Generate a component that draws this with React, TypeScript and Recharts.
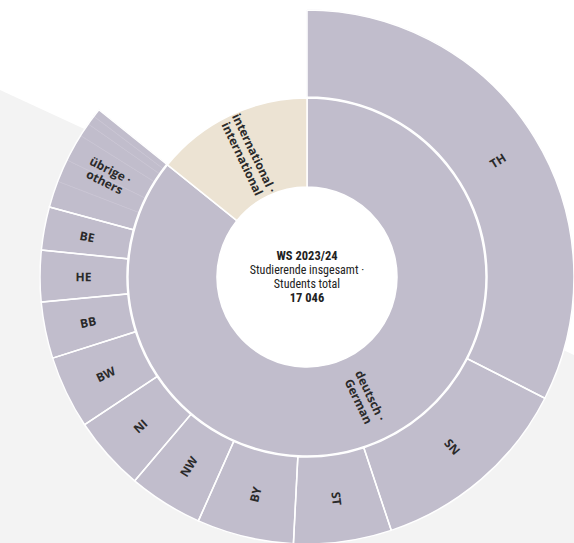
import React from "react";
import { PieChart, Pie, Cell } from "recharts";

// inner ring: origin of students
const originLabels = [["deutsch ·", "German"], ["international ·", "international"]];
const originValues = [14621, 2425];

// outer ring: federal states (German students by state of university entrance)
const stateLabels = [["TH"], ["SN"], ["ST"], ["BY"], ["NW"], ["NI"], ["BW"], ["BB"], ["HE"], ["BE"], ["übrige ·", "others"]];
const stateValues = [5540, 2112, 1009, 999, 767, 767, 753, 582, 530, 445, 1117];

// the small states hidden inside "übrige"
const otherStates = ["MV", "SH", "RP", "HH", "SL", "HB"];
const otherValues = [275, 237, 283, 142, 95, 85];

const totalLabel = "17 046";

const PURPLE = "#c1bdcc";
const BEIGE = "#ece3d3";
const RAD = Math.PI / 180;

const outerGrouped = [
  ...stateValues.map((v, i) => ({ name: stateLabels[i].join(" "), value: v })),
  { name: "gap", value: originValues[1] },
];
const outerDetail = [
  ...stateValues.slice(0, 10).map((v, i) => ({ name: stateLabels[i][0], value: v })),
  ...otherValues.map((v, i) => ({ name: otherStates[i], value: v })),
  { name: "gap", value: originValues[1] },
];
const innerData = originValues.map((v, i) => ({ name: originLabels[i].join(" "), value: v }));

const makeLabel = (lines: string[][], size: number) => (p: any) => {
  const lbl = lines[p.index];
  if (!lbl) return <g />;
  const mid = p.midAngle;
  let theta = (90 - mid) % 360;
  if (theta < 0) theta += 360;
  const r = (p.innerRadius + p.outerRadius) / 2;
  const x = p.cx + r * Math.cos(-mid * RAD);
  const y = p.cy + r * Math.sin(-mid * RAD);
  const rot = theta < 180 ? theta - 90 : theta + 90;
  const lh = size * 1.1;
  return (
    <text
      transform={`translate(${x},${y}) rotate(${rot})`}
      textAnchor="middle"
      dominantBaseline="central"
      fontFamily="'Open Sans', sans-serif"
      fontWeight={700}
      fontSize={size}
      fill="#2a2a2a"
    >
      {lbl.map((l, i) => (
        <tspan key={i} x={0} y={(i - (lbl.length - 1) / 2) * lh}>
          {l}
        </tspan>
      ))}
    </text>
  );
};

export default function App() {
  const cx = 307;
  const cy = 277;
  return (
    <div style={{ position: "absolute", left: 0, top: 0, width: 574, height: 543, overflow: "hidden", background: "#fff" }}>
      <svg width={574} height={543} style={{ position: "absolute", left: 0, top: 0 }}>
        <polygon points="0,90 574,355 574,543 0,543" fill="#f3f3f3" />
        <circle cx={cx} cy={cy} r={91} fill="#ffffff" />
      </svg>
      <div style={{ position: "absolute", left: 0, top: 0 }}>
        <PieChart width={574} height={543} margin={{ top: 0, right: 0, bottom: 0, left: 0 }}>
          <Pie
            data={outerDetail}
            dataKey="value"
            nameKey="name"
            cx={cx}
            cy={cy}
            innerRadius={180}
            outerRadius={267}
            startAngle={90}
            endAngle={-270}
            isAnimationActive={false}
            labelLine={false}
          >
            {outerDetail.map((d, i) => (
              <Cell
                key={i}
                fill={d.name === "gap" ? "none" : PURPLE}
                stroke={d.name === "gap" ? "none" : "#c9c5d3"}
                strokeWidth={0.6}
              />
            ))}
          </Pie>
          <Pie
            data={outerGrouped}
            dataKey="value"
            nameKey="name"
            cx={cx}
            cy={cy}
            innerRadius={180}
            outerRadius={267}
            startAngle={90}
            endAngle={-270}
            isAnimationActive={false}
            labelLine={false}
            label={makeLabel(stateLabels, 12)}
          >
            {outerGrouped.map((d, i) => (
              <Cell key={i} fill="none" stroke={d.name === "gap" ? "none" : "#ffffff"} strokeWidth={1.5} />
            ))}
          </Pie>
          <Pie
            data={innerData}
            dataKey="value"
            nameKey="name"
            cx={cx}
            cy={cy}
            innerRadius={90}
            outerRadius={179}
            startAngle={90}
            endAngle={-270}
            isAnimationActive={false}
            labelLine={false}
            label={makeLabel(originLabels, 12)}
          >
            {innerData.map((d, i) => (
              <Cell key={i} fill={i === 0 ? PURPLE : BEIGE} stroke="#ffffff" strokeWidth={1.5} />
            ))}
          </Pie>
        </PieChart>
      </div>
      <div
        style={{
          position: "absolute",
          left: cx - 80,
          top: cy - 28,
          width: 160,
          textAlign: "center",
          fontFamily: "'Liberation Sans Narrow', 'Roboto Condensed', Roboto, sans-serif",
          fontSize: 12,
          lineHeight: "14px",
          color: "#222",
        }}
      >
        <div style={{ fontWeight: 700, fontSize: 12.5 }}>WS 2023/24</div>
        <div>Studierende insgesamt ·</div>
        <div>Students total</div>
        <div style={{ fontWeight: 700, fontSize: 12.5 }}>{totalLabel}</div>
      </div>
    </div>
  );
}
